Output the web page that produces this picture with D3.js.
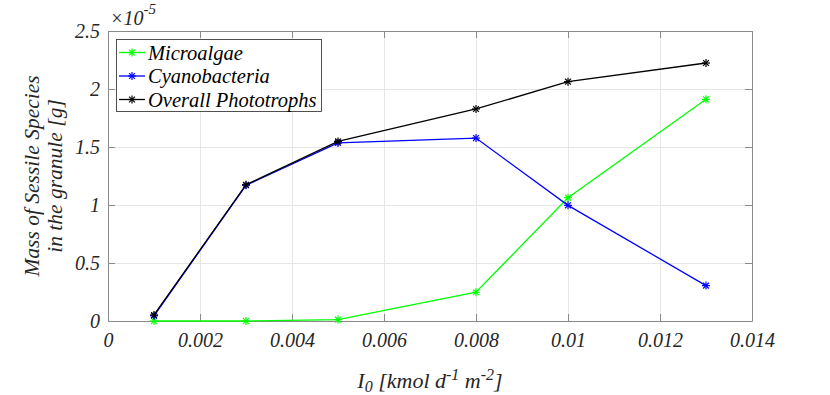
<!DOCTYPE html>
<html>
<head>
<meta charset="utf-8">
<script src="https://cdn.jsdelivr.net/npm/d3@7"></script>
</head>
<body style="margin:0;background:#fff">
<svg width="830" height="395"></svg>
<script>
// light intensity I0 [kmol d^-1 m^-2]
var intensity = [0.001, 0.003, 0.005, 0.008, 0.01, 0.013];
// masses in units of 1e-5 g
var microalgae = [0, 0, 0.012, 0.248, 1.063, 1.911];
var cyanobacteria = [0.045, 1.17, 1.535, 1.577, 0.997, 0.305];
var overall = [0.052, 1.175, 1.548, 1.828, 2.063, 2.224];

var xTicks = [0, 0.002, 0.004, 0.006, 0.008, 0.01, 0.012, 0.014];
var yTicks = [0, 0.5, 1, 1.5, 2, 2.5];

var seriesNames = ["Microalgae", "Cyanobacteria", "Overall Phototrophs"];
var seriesColors = ["#00ff00", "#0000ff", "#000000"];
var seriesValues = [microalgae, cyanobacteria, overall];

var plotLeft = 108, plotRight = 752, plotTop = 31, plotBottom = 321;

var svg = d3.select("svg");

var xScale = d3.scaleLinear().domain([0, 0.014]).range([plotLeft, plotRight]);
var yScale = d3.scaleLinear().domain([0, 2.5]).range([plotBottom, plotTop]);

// italic serif text helper
function label(sel, size) {
	return sel.attr("font-family", "Liberation Serif").attr("font-style", "italic")
		.attr("font-size", size);
}

// grid lines
svg.append("g")
	.attr("transform", "translate(0," + plotBottom + ")")
	.call(d3.axisBottom(xScale).tickValues(xTicks).tickSize(-(plotBottom - plotTop)).tickFormat(""))
	.call(function(g) {
		g.select(".domain").remove();
		g.selectAll("line").attr("stroke", "#e6e6e6");
	});
svg.append("g")
	.attr("transform", "translate(" + plotLeft + ",0)")
	.call(d3.axisLeft(yScale).tickValues(yTicks).tickSize(-(plotRight - plotLeft)).tickFormat(""))
	.call(function(g) {
		g.select(".domain").remove();
		g.selectAll("line").attr("stroke", "#e6e6e6");
	});

// axes with inward ticks
function styleAxis(g) {
	label(g, 20);
	g.select(".domain").attr("stroke", "#8a8a8a");
	g.selectAll(".tick line").attr("stroke", "#8a8a8a");
	label(g.selectAll("text").attr("fill", "#262626"), 20);
}

svg.append("g")
	.attr("transform", "translate(0," + plotBottom + ")")
	.call(d3.axisBottom(xScale).tickValues(xTicks).tickSize(-7).tickSizeOuter(0).tickPadding(12)
		.tickFormat(function(d) { return d === 0 ? "0" : String(+d.toFixed(3)); }))
	.call(styleAxis);
svg.append("g")
	.attr("transform", "translate(0," + plotTop + ")")
	.call(d3.axisTop(xScale).tickValues(xTicks).tickSize(-7).tickSizeOuter(0).tickFormat(""))
	.call(styleAxis);
svg.append("g")
	.attr("transform", "translate(" + plotLeft + ",0)")
	.call(d3.axisLeft(yScale).tickValues(yTicks).tickSize(-7).tickSizeOuter(0).tickPadding(8)
		.tickFormat(function(d) { return String(d); }))
	.call(styleAxis);
svg.append("g")
	.attr("transform", "translate(" + plotRight + ",0)")
	.call(d3.axisRight(yScale).tickValues(yTicks).tickSize(-7).tickSizeOuter(0).tickFormat(""))
	.call(styleAxis);

// asterisk marker
function asterisk(g, cx, cy, color) {
	var r = 4, d = 2.9;
	var segs = [[-r, 0, r, 0], [0, -r, 0, r], [-d, -d, d, d], [-d, d, d, -d]];
	segs.forEach(function(s) {
		g.append("line")
			.attr("x1", cx + s[0]).attr("y1", cy + s[1])
			.attr("x2", cx + s[2]).attr("y2", cy + s[3])
			.attr("stroke", color).attr("stroke-width", 1.2);
	});
}

var line = d3.line()
	.x(function(d, i) { return xScale(intensity[i]); })
	.y(function(d) { return yScale(d); });

seriesValues.forEach(function(vals, k) {
	var g = svg.append("g");
	g.append("path")
		.attr("d", line(vals))
		.attr("fill", "none")
		.attr("stroke", seriesColors[k])
		.attr("stroke-width", 1.3);
	vals.forEach(function(v, i) {
		asterisk(g, xScale(intensity[i]), yScale(v), seriesColors[k]);
	});
});

// exponent label
var expo = label(svg.append("text"), 20).attr("x", 110).attr("y", 25).attr("fill", "#262626");
expo.append("tspan").text("\u00d710");
expo.append("tspan").attr("dy", -11).attr("font-size", 15).text("-5");

// legend
var leg = svg.append("g");
leg.append("rect")
	.attr("x", 116.5).attr("y", 39.5).attr("width", 205).attr("height", 72)
	.attr("fill", "#fff").attr("stroke", "#262626").attr("stroke-width", 0.8);
seriesNames.forEach(function(name, k) {
	var cy = 52.5 + k * 23.5;
	leg.append("line")
		.attr("x1", 119).attr("x2", 145).attr("y1", cy).attr("y2", cy)
		.attr("stroke", seriesColors[k]).attr("stroke-width", 1.3);
	asterisk(leg, 132, cy, seriesColors[k]);
	label(leg.append("text"), 20.5)
		.attr("x", 148).attr("y", cy + 7)
		.attr("fill", "#000")
		.text(name);
});

// x label
var xl = label(svg.append("text"), 22)
	.attr("x", (plotLeft + plotRight) / 2).attr("y", 388)
	.attr("text-anchor", "middle")
	.attr("fill", "#262626");
xl.append("tspan").text("I");
xl.append("tspan").attr("dy", 4).attr("font-size", 16).text("0");
xl.append("tspan").attr("dy", -4).text(" [kmol d");
xl.append("tspan").attr("dy", -8).attr("font-size", 16).text("-1");
xl.append("tspan").attr("dy", 8).text(" m");
xl.append("tspan").attr("dy", -8).attr("font-size", 16).text("-2");
xl.append("tspan").attr("dy", 8).text("]");

// y label
var yl = svg.append("g")
	.attr("transform", "translate(38.5," + ((plotTop + plotBottom) / 2) + ") rotate(-90)");
label(yl.append("text"), 21.5)
	.attr("text-anchor", "middle")
	.attr("fill", "#262626")
	.text("Mass of Sessile Species");
label(yl.append("text"), 21.5)
	.attr("y", 23.5)
	.attr("text-anchor", "middle")
	.attr("fill", "#262626")
	.text("in the granule [g]");
</script>
</body>
</html>
